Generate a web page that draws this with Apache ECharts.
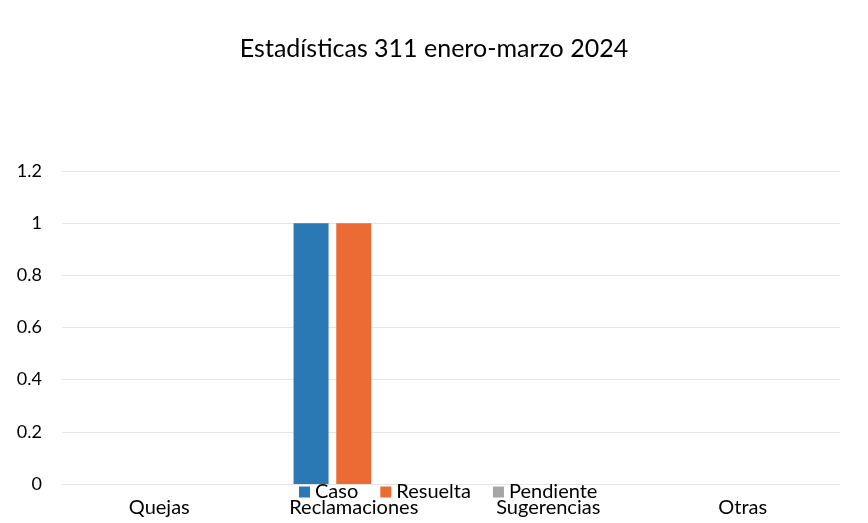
<!DOCTYPE html>
<html>
<head>
<meta charset="utf-8">
<script src="https://cdn.jsdelivr.net/npm/echarts@6/dist/echarts.min.js"></script>
<style>
  html, body { margin: 0; padding: 0; background: #fff; }
  #main { width: 868px; height: 523px; }
</style>
</head>
<body>
<div id="main"></div>
<script>
// categorias y series
const categorias = ['Quejas', 'Reclamaciones', 'Sugerencias', 'Otras']
const caso = [0, 1, 0, 0]
const resuelta = [0, 1, 0, 0]
const pendiente = [0, 0, 0, 0]

const fuente = 'Lato'
const myChart = echarts.init(document.getElementById('main'))
myChart.setOption({
  backgroundColor: '#ffffff',
  textStyle: { fontFamily: fuente },
  title: {
    text: 'Estadísticas 311 enero-marzo 2024',
    left: 'center',
    top: 31,
    textStyle: { fontFamily: fuente, fontSize: 25, fontWeight: 'normal', color: '#000' }
  },
  legend: {
    left: 294,
    top: 477,
    itemWidth: 11,
    itemHeight: 11,
    itemGap: 22,
    icon: 'rect',
    textStyle: { fontFamily: fuente, fontSize: 20, color: '#000', padding: [0, 0, 0, 0] },
    data: ['Caso', 'Resuelta', 'Pendiente']
  },
  grid: { left: 62, right: 28, top: 171, bottom: 39 },
  xAxis: {
    type: 'category',
    data: categorias,
    axisLine: { show: false },
    axisTick: { show: false },
    axisLabel: { fontFamily: fuente, fontSize: 20, color: '#000', margin: 14 }
  },
  yAxis: {
    type: 'value',
    min: 0,
    max: 1.2,
    interval: 0.2,
    axisLine: { show: false },
    axisTick: { show: false },
    axisLabel: { fontFamily: fuente, fontSize: 18, color: '#000', margin: 20, formatter: v => String(+v.toFixed(1)) },
    splitLine: { lineStyle: { color: '#e4e4e4', width: 1 } }
  },
  series: [
    { name: 'Caso', type: 'bar', data: caso, barWidth: 35, barGap: '22%', itemStyle: { color: '#2a78b4' } },
    { name: 'Resuelta', type: 'bar', data: resuelta, barWidth: 35, itemStyle: { color: '#ec6a34' } },
    { name: 'Pendiente', type: 'bar', data: pendiente, barWidth: 35, itemStyle: { color: '#a5a5a5' } }
  ]
})
</script>
</body>
</html>
